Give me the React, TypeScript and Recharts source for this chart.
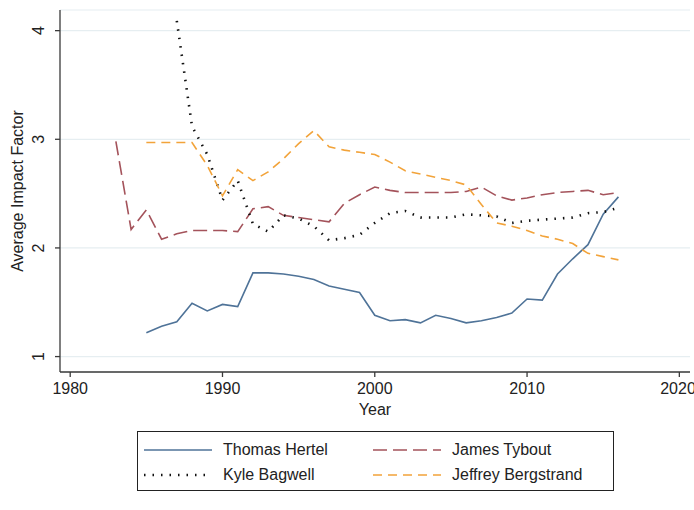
import { LineChart, Line, XAxis, YAxis, CartesianGrid } from 'recharts';

const years = [
  1983, 1984, 1985, 1986, 1987, 1988, 1989, 1990, 1991, 1992, 1993, 1994, 1995, 1996, 1997, 1998, 1999,
  2000, 2001, 2002, 2003, 2004, 2005, 2006, 2007, 2008, 2009, 2010, 2011, 2012, 2013, 2014, 2015, 2016,
];

const hertel = [
  null, null, 1.22, 1.28, 1.32, 1.49, 1.42, 1.48, 1.46, 1.77, 1.77, 1.76, 1.74, 1.71, 1.65, 1.62, 1.59,
  1.38, 1.33, 1.34, 1.31, 1.38, 1.35, 1.31, 1.33, 1.36, 1.4, 1.53, 1.52, 1.76, 1.9, 2.03, 2.31, 2.47,
];

const tybout = [
  2.98, 2.17, 2.35, 2.08, 2.13, 2.16, 2.16, 2.16, 2.15, 2.36, 2.38, 2.3, 2.28, 2.26, 2.24, 2.41, 2.49,
  2.56, 2.53, 2.51, 2.51, 2.51, 2.51, 2.52, 2.56, 2.48, 2.44, 2.46, 2.49, 2.51, 2.52, 2.53, 2.49, 2.51,
];

const bagwell = [
  null, null, null, null, 4.09, 3.12, 2.86, 2.44, 2.62, 2.22, 2.15, 2.3, 2.27, 2.2, 2.07, 2.09, 2.12,
  2.23, 2.32, 2.34, 2.28, 2.28, 2.28, 2.31, 2.3, 2.29, 2.23, 2.25, 2.26, 2.27, 2.28, 2.32, 2.33, 2.37,
];

const bergstrand = [
  null, null, 2.97, 2.97, 2.97, 2.97, 2.76, 2.48, 2.72, 2.62, 2.7, 2.82, 2.96, 3.08, 2.93, 2.9, 2.88,
  2.86, 2.79, 2.71, 2.68, 2.65, 2.62, 2.58, 2.4, 2.23, 2.2, 2.16, 2.11, 2.08, 2.04, 1.95, 1.92, 1.89,
];

const xTicks = [1980, 1990, 2000, 2010, 2020];
const yTicks = [1, 2, 3, 4];

const data = years.map((year, i) => ({
  year,
  hertel: hertel[i],
  tybout: tybout[i],
  bagwell: bagwell[i],
  bergstrand: bergstrand[i],
}));

const FONT = 'Arial, "Liberation Sans", sans-serif';
const AXIS = '#3a3a3a';

const series = [
  { key: 'hertel', name: 'Thomas Hertel', color: '#4f7398', dash: undefined, width: 1.6 },
  { key: 'tybout', name: 'James Tybout', color: '#a4535b', dash: '14 6', width: 1.6 },
  { key: 'bagwell', name: 'Kyle Bagwell', color: '#111111', dash: '1.5 7', width: 2.6 },
  { key: 'bergstrand', name: 'Jeffrey Bergstrand', color: '#f2a33a', dash: '9 6', width: 1.6 },
];

function YTick(props: any) {
  const { x, y, payload } = props;
  return (
    <text
      x={x - 9}
      y={y}
      transform={`rotate(-90, ${x - 9}, ${y})`}
      textAnchor="middle"
      fontSize={16}
      fontFamily={FONT}
      fill="#222"
    >
      {payload.value}
    </text>
  );
}

function LegendSample({ color, dash, width }: { color: string; dash?: string; width: number }) {
  return (
    <svg width={68} height={10} style={{ display: 'block' }}>
      <line x1={0} y1={5} x2={68} y2={5} stroke={color} strokeWidth={width} strokeDasharray={dash} />
    </svg>
  );
}

export default function App() {
  return (
    <div style={{ position: 'absolute', left: 0, top: 0, width: 694, height: 510, background: '#fff' }}>
      <LineChart
        width={694}
        height={510}
        data={data}
        margin={{ top: 10, right: 4, left: 0, bottom: 88 }}
      >
        <CartesianGrid horizontal vertical={false} stroke="#e6eef1" strokeWidth={1.2} />
        <XAxis
          dataKey="year"
          type="number"
          domain={[1979.33, 2020.7]}
          ticks={xTicks}
          allowDataOverflow
          height={50}
          tickSize={5}
          tickMargin={6}
          stroke={AXIS}
          strokeWidth={1.3}
          tick={{ fill: '#222', fontSize: 16, fontFamily: FONT }}
          label={{ value: 'Year', position: 'insideBottom', offset: 7, fill: '#222', fontSize: 16, fontFamily: FONT }}
        />
        <YAxis
          type="number"
          domain={[0.858, 4.19]}
          ticks={yTicks}
          allowDataOverflow
          width={60}
          tickSize={5}
          tickMargin={2}
          stroke={AXIS}
          strokeWidth={1.3}
          tick={<YTick />}
          label={{
            value: 'Average Impact Factor',
            angle: -90,
            position: 'insideLeft',
            offset: 17,
            style: { textAnchor: 'middle' },
            fill: '#222',
            fontSize: 16,
            fontFamily: FONT,
          }}
        />
        {series.map((s) => (
          <Line
            key={s.key}
            type="linear"
            dataKey={s.key}
            name={s.name}
            stroke={s.color}
            strokeWidth={s.width}
            strokeDasharray={s.dash}
            dot={false}
            activeDot={false}
            isAnimationActive={false}
          />
        ))}
      </LineChart>
      <div
        style={{
          position: 'absolute',
          left: 137,
          top: 431,
          width: 477,
          height: 60,
          border: '1px solid #222',
          boxSizing: 'border-box',
          display: 'grid',
          gridTemplateColumns: '229px 229px',
          gridTemplateRows: '25px 25px',
          padding: '5px 0 0 6px',
          fontFamily: FONT,
          fontSize: 16,
          color: '#222',
        }}
      >
        {series.map((s) => (
          <div key={s.key} style={{ display: 'flex', alignItems: 'center', gap: 11 }}>
            <LegendSample color={s.color} dash={s.dash} width={s.width} />
            <span>{s.name}</span>
          </div>
        ))}
      </div>
    </div>
  );
}
